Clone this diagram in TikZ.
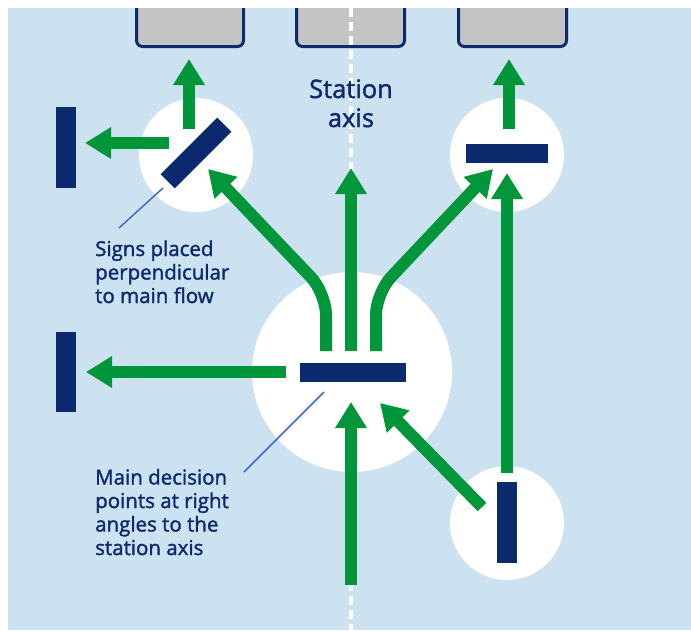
\documentclass[tikz,border=0pt]{standalone}
\usepackage{fontspec}
\setmainfont{Open Sans}
\newfontfamily\medfont{Open Sans}[FakeBold=1.6]
\usetikzlibrary{arrows.meta}
\definecolor{bgblue}{RGB}{204,226,240}
\definecolor{flowgreen}{RGB}{0,150,57}
\definecolor{navy}{RGB}{12,42,110}
\definecolor{boxgrey}{RGB}{196,196,196}
\definecolor{callblue}{RGB}{60,110,200}
\tikzset{
  flow/.style={draw=flowgreen, line width=12pt, -{Triangle[length=26pt,width=30pt]}},
  branch/.style={flow, rounded corners=22pt},
  gatebox/.style={draw=navy, fill=boxgrey, line width=3pt, rounded corners=6pt},
  zone/.style={fill=white},
  sign/.style={fill=navy, draw=none, inner sep=0pt, rectangle},
  callout/.style={draw=callblue, line width=1.5pt},
  label/.style={text=navy, align=left, inner sep=0pt, font=\medfont\fontsize{20.5}{23.5}\selectfont},
  axislabel/.style={text=navy, align=center, inner sep=0pt, font=\medfont\fontsize{25.5}{29}\selectfont},
}
\begin{document}
\begin{tikzpicture}[x=1pt,y=-1pt]
\useasboundingbox (0,0) rectangle (691,630);
\fill[white] (0,0) rectangle (691,630);
\begin{scope}
\clip (8,8) rectangle (691,630);
\fill[bgblue] (8,8) rectangle (691,630);
% gates
\draw[gatebox] (136.5,-20) rectangle (243.5,46.5);
\draw[gatebox] (296.5,-20) rectangle (404.5,46.5);
\draw[gatebox] (458.5,-20) rectangle (566.5,46.5);
% station axis
\draw[white, line width=4.5pt, dash pattern=on 9pt off 5pt] (351,8) -- (351,630);
% decision zones
\fill[zone] (196,155) circle[radius=57pt];
\fill[zone] (507,155) circle[radius=57pt];
\fill[zone] (352,372) circle[radius=100pt];
\fill[zone] (507,523) circle[radius=57pt];
% signs
\node[sign, minimum width=20pt, minimum height=81pt] (farTop) at (66,147.5) {};
\node[sign, minimum width=20pt, minimum height=80pt] (farMid) at (66,372) {};
\node[sign, minimum width=80pt, minimum height=20pt, rotate=45] (diag) at (196,153) {};
\node[sign, minimum width=82pt, minimum height=19pt] (urBar) at (507,153.5) {};
\node[sign, minimum width=106pt, minimum height=19pt] (cBar) at (353,372.5) {};
\node[sign, minimum width=20pt, minimum height=81pt] (lrBar) at (507,522.5) {};
% flow coordinates
\coordinate (ulUpS) at (189,129); \coordinate (ulUpT) at (189,59);
\coordinate (ulLS) at (169,143); \coordinate (ulLT) at (85,143);
\coordinate (urUpS) at (509,129); \coordinate (urUpT) at (509,59);
\coordinate (cMidS) at (351,351); \coordinate (cMidT) at (351,168);
\coordinate (cLS) at (326,351); \coordinate (cLB) at (326,293); \coordinate (cLT) at (208,169);
\coordinate (cRS) at (376,351); \coordinate (cRB) at (376,293); \coordinate (cRT) at (493,169);
\coordinate (cWS) at (286,372); \coordinate (cWT) at (86,372);
\coordinate (botS) at (351,585); \coordinate (botT) at (351,402);
\coordinate (dgS) at (482,507); \coordinate (dgT) at (380,403);
\coordinate (rvS) at (507,473); \coordinate (rvT) at (507,173);
% flows
\draw[flow] (ulUpS) -- (ulUpT);
\draw[flow] (ulLS) -- (ulLT);
\draw[flow] (urUpS) -- (urUpT);
\draw[flow] (cMidS) -- (cMidT);
\draw[branch] (cLS) -- (cLB) -- (cLT);
\draw[branch] (cRS) -- (cRB) -- (cRT);
\draw[flow] (cWS) -- (cWT);
\draw[flow] (botS) -- (botT);
\draw[flow] (dgS) -- (dgT);
\draw[flow] (rvS) -- (rvT);
% labels (base anchor = last line baseline)
\node[axislabel, anchor=base] (axisText) at (351,127) {Station\\axis};
\node[label, anchor=base west] (signsText) at (95,303) {Signs placed\\perpendicular\\to main flow};
\node[label, anchor=base west] (mainText) at (95,555) {Main decision\\points at right\\angles to the\\station axis};
% callouts
\coordinate (c1a) at (163,188); \coordinate (c1b) at (119,228);
\coordinate (c2a) at (324,392); \coordinate (c2b) at (244,472);
\draw[callout] (c1a) -- (c1b);
\draw[callout] (c2a) -- (c2b);
\end{scope}
\end{tikzpicture}
\end{document}
